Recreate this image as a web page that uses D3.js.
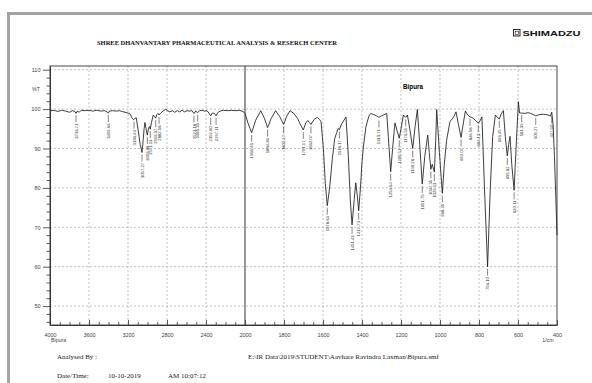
<!DOCTYPE html>
<html><head><meta charset="utf-8">
<script src="https://cdn.jsdelivr.net/npm/d3@7"></script>
<style>body{margin:0;background:#fff}svg{display:block}</style>
</head><body><svg id="c" width="592" height="383"></svg>
<script>
// ---------- data ----------
const wavenumbers = [4000,3960,3920,3880,3840,3800,3770,3745,3733,3720,3700,3680,3640,3600,3560,3520,3480,3440,3415,3402,3390,3360,3320,3290,3260,3230,3200,3180,3160,3145,3130,3115,3095,3075,3056,3045,3035,3026,3015,3002,2988,2978,2971,2960,2941,2928,2916,2905,2893,2882,2865,2840,2812,2795,2770,2745,2720,2695,2670,2645,2620,2595,2570,2545,2523,2505,2485,2465,2440,2415,2390,2370,2352,2335,2315,2297,2280,2255,2220,2180,2140,2100,2060,2030,2010,2000,
1985,1966,1945,1919,1900,1884,1866,1843,1822,1802,1786,1769,1750,1730,1715,1701,1688,1678,1670,1662,1645,1629,1618,1610,1598,1588,1578,1566,1552,1540,1530,1522,1516,1505,1482,1470,1460,1451,1440,1432,1424,1417,1408,1400,1393,1380,1365,1355,1340,1325,1313,1300,1291,1273,1265,1253,1243,1231,1220,1209,1198,1188,1176,1167,1155,1140,1128,1116,1104,1091,1078,1063,1055,1047,1040,1029,1022,1017,1003,988,978,966,949,930,918,905,892,880,870,858,846,836,829,815,804,795,785,772,756,742,730,716,706,696,686,675,665,655,648,641,632,620,610,598,592,581,565,548,530,509,490,470,445,434,427,420,413,405,400];
const transmittance = [99.6,99.7,99.4,99.7,99.5,99.2,99.6,99.4,98.9,99.5,99.2,99.7,99.6,99.7,99.5,99.7,99.5,99.6,99.3,99.0,99.5,99.6,99.5,99.6,99.4,99.2,99.0,98.8,97.8,97.3,97.6,97.8,94.5,91.0,89.0,92.0,95.0,96.6,95.0,93.4,95.2,95.6,94.9,96.5,98.5,98.1,97.7,98.6,98.9,98.5,99.0,99.5,100.0,99.6,99.3,99.6,99.2,99.6,99.3,99.7,99.3,99.6,99.5,99.6,98.9,99.5,99.1,99.6,99.7,99.5,99.6,99.0,98.3,99.0,98.9,98.3,99.1,99.5,99.7,99.6,99.7,99.6,99.7,99.5,99.2,98.9,
96.5,94.0,97.2,99.6,97.6,95.3,97.6,99.6,98.1,96.1,98.2,99.6,98.9,97.6,96.0,94.7,96.5,97.1,96.6,96.1,97.4,97.9,97.4,96.8,90.0,81.0,75.5,80.0,87.5,92.5,94.0,95.1,94.8,96.2,98.0,88.0,77.0,70.6,77.0,81.3,78.0,74.2,80.0,86.5,90.4,95.5,98.2,98.9,98.6,98.3,97.9,98.3,98.5,98.9,93.0,84.1,90.0,96.5,94.5,92.6,95.5,98.5,97.9,98.5,95.0,90.0,95.5,99.9,91.0,81.0,88.0,93.4,89.0,84.7,86.0,84.0,92.0,99.9,89.0,78.6,86.0,92.1,96.8,98.0,99.3,96.0,92.8,96.5,99.5,98.5,98.0,97.9,97.6,97.0,96.4,97.0,98.0,80.0,60.0,80.0,93.0,98.5,97.9,97.5,98.8,99.6,93.0,88.1,91.0,93.1,86.0,79.4,90.0,101.9,99.0,99.0,98.9,99.1,98.8,98.3,98.6,98.7,98.5,98.2,99.2,96.0,88.0,76.0,68.0];

const peakWavenumbers = [3733,3402,3138,3056,3002,2971,2916,2882,2523,2485,2352,2297,1966,1884,1802,1701,1662,1578,1516,1451,1417,1313,1253,1209,1176,1140,1091,1047,1029,988,892,846,804,756,696,655,620,581,509,427];
const peakTransmittance = [99.0,99.0,97.3,89.0,93.4,94.9,97.7,98.5,98.9,99.1,98.3,98.3,94.0,95.3,96.1,94.7,96.1,75.5,94.8,70.6,74.2,97.6,84.1,92.6,97.9,90.0,81.0,84.7,84.0,78.6,92.8,98.0,96.4,60.0,97.5,88.1,79.4,99.0,98.3,98.7];
const peakLabels = ["3733.71","3402.66","3138.43","3057.27","3003.68","2971.13","2916.37","2882.58","2523.18","2485.33","2352.60","2297.11","1966.46","1884.36","1802.27","1701.17","1662.07","1578.63","1516.17","1451.43","1417.73","1313.71","1253.64","1209.51","1176.59","1140.28","1091.75","1047.35","1029.13","988.35","892.07","846.58","804.13","756.10","696.45","655.82","620.11","581.39","509.27","427.50"];

const xMajorTicks = [4000,3600,3200,2800,2400,2000,1800,1600,1400,1200,1000,800,600,400];
const xGridTicks = [3600,3200,2800,2400,1800,1600,1400,1200,1000,800,600];
const yMajorTicks = [50,60,70,80,90,100,110];
const xTickLabels = ["4000","3600","3200","2800","2400","2000","1800","1600","1400","1200","1000","800","600","400"];

const titleText = "SHREE DHANVANTARY PHARMACEUTICAL ANALYSIS & RESERCH CENTER";
const sampleName = "Bipura";
const filePath = "E:\\IR Data\\2019\\STUDENT\\Aavhare Ravindra Laxman\\Bipura.smf";

// ---------- layout ----------
const svg = d3.select('#c');
const L = 50, R = 557, T = 66, B = 325;
const x = d3.scaleLinear().domain([4000,2000,400]).range([L,245,R]);
const y = d3.scaleLinear().domain([45.2,110.94]).range([B,T]);

// page border (gray)
svg.append('line').attr('x1',7).attr('x2',592).attr('y1',13.5).attr('y2',13.5).attr('stroke','#a3a3a3').attr('stroke-width',3);
svg.append('line').attr('x1',8.5).attr('x2',8.5).attr('y1',12).attr('y2',383).attr('stroke','#a3a3a3').attr('stroke-width',3);

// title
svg.append('text').attr('x',217).attr('y',44.5).attr('text-anchor','middle')
  .attr('font-family','Liberation Serif, Times New Roman, serif').attr('font-weight','bold').attr('font-size',7)
  .attr('textLength',240).attr('lengthAdjust','spacingAndGlyphs').attr('fill','#111').text(titleText);

// Shimadzu logo
const lg = svg.append('g');
lg.append('rect').attr('x',513.5).attr('y',29.5).attr('width',6.5).attr('height',6.5).attr('fill','none').attr('stroke','#111').attr('stroke-width',0.9);
lg.append('rect').attr('x',515.2).attr('y',31.2).attr('width',3.1).attr('height',3.1).attr('fill','none').attr('stroke','#111').attr('stroke-width',0.6);
lg.append('text').attr('x',522.5).attr('y',36).attr('font-family','Liberation Sans, Arial, sans-serif').attr('font-weight','bold')
  .attr('font-size',8).attr('textLength',58).attr('lengthAdjust','spacingAndGlyphs').attr('fill','#111').text('SHIMADZU');

// grid
const grid = svg.append('g').attr('stroke','#9a9a9a').attr('stroke-width',0.6).attr('stroke-dasharray','2,2');
grid.selectAll('.h').data(yMajorTicks).join('line').attr('x1',L).attr('x2',R).attr('y1',d=>y(d)).attr('y2',d=>y(d));
grid.selectAll('.v').data(xGridTicks).join('line').attr('x1',d=>x(d)).attr('x2',d=>x(d)).attr('y1',T).attr('y2',B);

// frame + 2000 divider
const fr = svg.append('g').attr('stroke','#333').attr('stroke-width',0.9).attr('fill','none');
fr.append('rect').attr('x',L).attr('y',T).attr('width',R-L).attr('height',B-T);
fr.append('line').attr('x1',x(2000)).attr('x2',x(2000)).attr('y1',T).attr('y2',B).attr('stroke-width',1);

// y axis
const yMinor = d3.range(46,111,2).filter(v=>v%10!==0);
svg.append('g').attr('transform',`translate(${L},0)`)
  .call(d3.axisLeft(y).tickValues(yMajorTicks).tickSize(7).tickSizeOuter(0).tickPadding(2.5).tickFormat(d3.format('d')));
svg.append('g').attr('transform',`translate(${L},0)`)
  .call(d3.axisLeft(y).tickValues(yMinor).tickSize(3.5).tickSizeOuter(0).tickFormat(''));
svg.append('text').attr('x',40).attr('y',y(105)+2).attr('text-anchor','end').attr('font-family','Liberation Sans, Arial, sans-serif')
  .attr('font-size',5.3).attr('fill','#444').text('%T');

// x axis
const xMinor = d3.range(4000,2000,-100).concat(d3.range(2000,399,-50)).filter(v=>!xMajorTicks.includes(v));
svg.append('g').attr('transform',`translate(0,${B})`)
  .call(d3.axisBottom(x).tickValues(xMajorTicks).tickSize(-5).tickSizeOuter(0).tickPadding(8)
    .tickFormat((d,i)=>xTickLabels[i]));
svg.append('g').attr('transform',`translate(0,${B})`)
  .call(d3.axisBottom(x).tickValues(xMinor).tickSize(-3).tickSizeOuter(0).tickFormat(''));
svg.selectAll('.tick text').attr('font-family','Liberation Sans, Arial, sans-serif').attr('font-size',5.5).attr('fill','#444');
svg.selectAll('.domain, .tick line').attr('stroke','#333').attr('stroke-width',0.8);
svg.append('text').attr('x',51).attr('y',342).attr('font-family','Liberation Sans, Arial, sans-serif').attr('font-size',5.3).attr('fill','#444').text(sampleName);
svg.append('text').attr('x',548).attr('y',342).attr('text-anchor','middle').attr('font-family','Liberation Sans, Arial, sans-serif').attr('font-size',5.3).attr('fill','#444').text('1/cm');

// spectrum
const pts = wavenumbers.map((w,i)=>[w,transmittance[i]]);
svg.append('path').datum(pts).attr('fill','none').attr('stroke','#1c1c1c').attr('stroke-width',0.85).attr('stroke-linejoin','round')
  .attr('d', d3.line().x(d=>x(d[0])).y(d=>y(d[1])));

// peak labels
const pk = svg.append('g');
peakWavenumbers.forEach((w,i)=>{
  const px = x(w), py = y(peakTransmittance[i]) + 2;
  pk.append('line').attr('x1',px).attr('x2',px).attr('y1',py).attr('y2',py+7).attr('stroke','#333').attr('stroke-width',0.6);
  pk.append('text').attr('transform',`translate(${px+1.5},${py+8.5}) rotate(-90)`).attr('text-anchor','end')
    .attr('font-family','Liberation Sans, Arial, sans-serif').attr('font-size',4.2).attr('fill','#333').text(peakLabels[i]);
});

// sample name in plot
svg.append('text').attr('x',413).attr('y',89).attr('text-anchor','middle').attr('font-family','Liberation Sans, Arial, sans-serif')
  .attr('font-weight','bold').attr('font-size',6.3).attr('fill','#000').text(sampleName);

// footer
const ft = (t,xx,yy)=>svg.append('text').attr('x',xx).attr('y',yy).attr('font-family','Liberation Serif, Times New Roman, serif')
  .attr('font-size',7).attr('fill','#222').text(t);
ft('Analysed By :',57,359);
ft(filePath,248,359);
ft('Date/Time:',57,378);
ft('10-10-2019',108,378);
ft('AM 10:07:12',168,378);
</script></body></html>
